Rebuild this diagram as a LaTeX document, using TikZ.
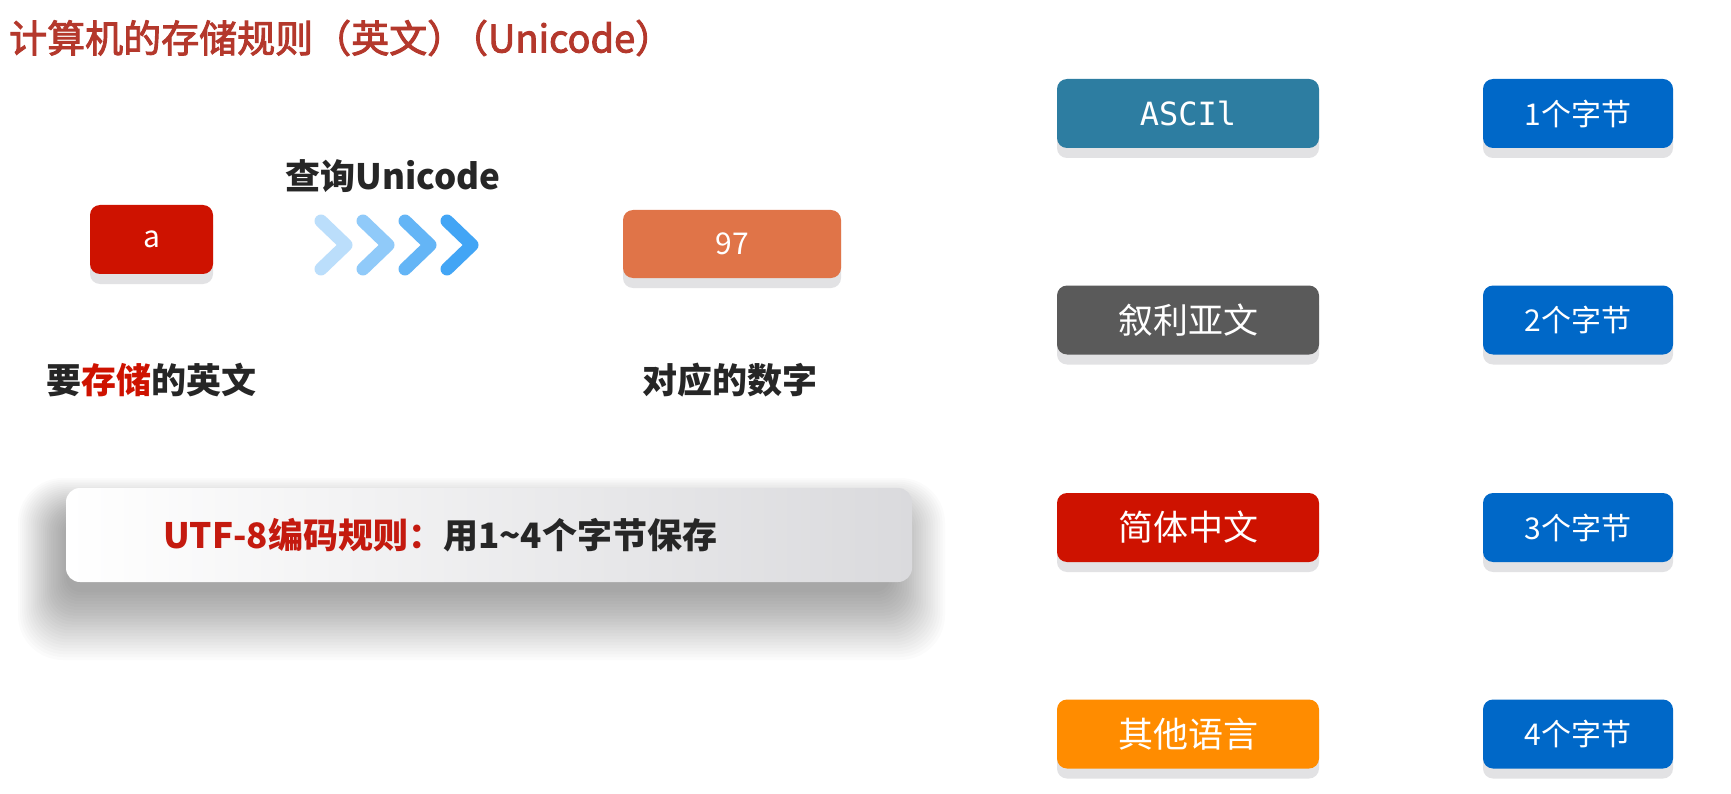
\documentclass[tikz,border=0pt]{standalone}
\usepackage{fontspec}
\setmainfont{Noto Sans CJK SC}
\newfontfamily\titlefont[FakeBold=2.5]{Noto Sans CJK SC}
\newfontfamily\monof{DejaVu Sans Mono}
\usetikzlibrary{shadows}
\definecolor{titlered}{RGB}{180,56,44}
\definecolor{boxred}{RGB}{206,18,0}
\definecolor{boxorange}{RGB}{224,116,72}
\definecolor{asciiblue}{RGB}{45,125,161}
\definecolor{syrgray}{RGB}{90,90,90}
\definecolor{otherorange}{RGB}{255,140,0}
\definecolor{bytesblue}{RGB}{0,104,200}
\definecolor{shadowgray}{RGB}{226,226,228}
\definecolor{darktext}{RGB}{38,38,38}
\definecolor{utfred}{RGB}{196,26,15}
\definecolor{chevA}{RGB}{187,222,251}
\definecolor{chevB}{RGB}{144,202,249}
\definecolor{chevC}{RGB}{100,181,246}
\definecolor{chevD}{RGB}{66,165,245}
\definecolor{panelgray}{RGB}{218,218,221}
\begin{document}
\begin{tikzpicture}[x=1pt,y=-1pt,
  colorbox/.style={rectangle, rounded corners=10pt, inner sep=0pt, text=white,
    drop shadow={shadow xshift=0pt, shadow yshift=-10pt, fill=shadowgray, opacity=1}},
  langbox/.style={colorbox, minimum width=262pt, minimum height=69pt,
    font=\fontsize{35}{40}\selectfont},
  bytebox/.style={colorbox, fill=bytesblue, minimum width=190pt, minimum height=69pt,
    font=\fontsize{30}{36}\selectfont},
  label/.style={inner sep=0pt, text=darktext, font=\bfseries\fontsize{35}{40}\selectfont},
  chevron/.style={line width=13pt, line cap=round, line join=round},
  softshadow/.style={fill=black, opacity=0.017}
]
\useasboundingbox[fill=white] (0,0) rectangle (1731,794);

% title
\node[anchor=west, inner sep=0pt, text=titlered, font=\titlefont\fontsize{38}{44}\selectfont]
  (title) at (9,38) {计算机的存储规则（英文）\kern-0.4em（Unicode）};

% left part
\node[colorbox, fill=boxred, minimum width=123pt, minimum height=69pt,
  font=\fontsize{30}{36}\selectfont] (a) at (151.5,239.5) {a};
\node[colorbox, fill=boxorange, minimum width=218pt, minimum height=68pt,
  font=\fontsize{30}{36}\selectfont] (n97) at (732,244) {97};

\node[label] (query) at (393,176) {查询Unicode};
\foreach \k/\c in {0/chevA,1/chevB,2/chevC,3/chevD}
  \draw[chevron, draw=\c] (321+42*\k,221) -- (346+42*\k,245) -- (321+42*\k,269);

\node[label] (lblA) at (151,380) {要{\color{boxred}存储}的英文};
\node[label] (lbl97) at (730,380) {对应的数字};

% UTF-8 panel soft shadow
\foreach \i in {0,...,23}{
  \pgfmathsetmacro\t{\i/23}
  \fill[softshadow, rounded corners={(45-30*\t)*1pt}]
    (18+48*\t,478+42*\t) rectangle (945-55*\t,660-68*\t);
}
\node[rectangle, rounded corners=14pt, minimum width=846pt, minimum height=94pt, inner sep=0pt,
  left color=white, right color=panelgray] (utf) at (489,535) {};
\node[anchor=west, inner sep=0pt, font=\bfseries\fontsize{35}{40}\selectfont]
  (utftext) at (163,535) {{\color{utfred}UTF-8编码规则：}{\color{darktext}用1\char`\~4个字节保存}};

% right column
\node[langbox, fill=asciiblue, font=\monof\fontsize{32}{38}\selectfont] (ascii) at (1188,113.5) {ASCIl};
\node[langbox, fill=syrgray] (syr) at (1188,320) {叙利亚文};
\node[langbox, fill=boxred] (zh) at (1188,527.5) {简体中文};
\node[langbox, fill=otherorange] (other) at (1188,734) {其他语言};

\node[bytebox] (b1) at (1578,113.5) {1个字节};
\node[bytebox] (b2) at (1578,320) {2个字节};
\node[bytebox] (b3) at (1578,527.5) {3个字节};
\node[bytebox] (b4) at (1578,734) {4个字节};
\end{tikzpicture}
\end{document}
